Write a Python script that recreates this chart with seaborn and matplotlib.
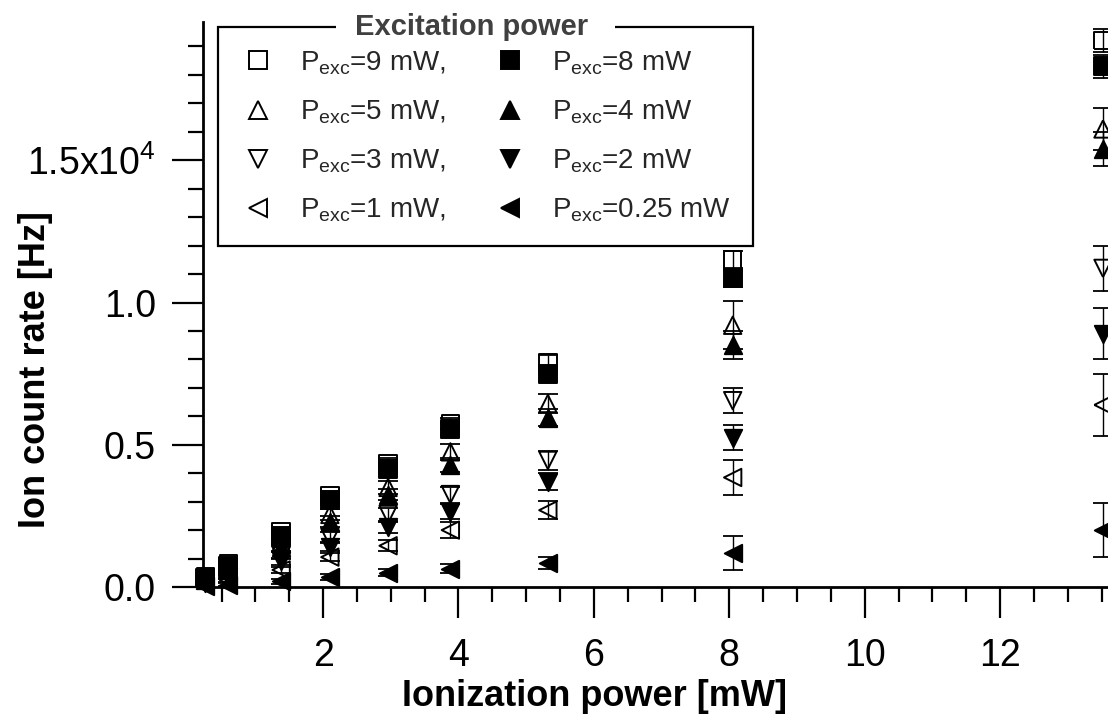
import matplotlib
matplotlib.use("Agg")
import matplotlib.pyplot as plt
from matplotlib.lines import Line2D
from matplotlib.patches import Rectangle
from matplotlib.ticker import MultipleLocator, FixedLocator, FixedFormatter
import numpy as np
import pandas as pd
import seaborn as sns

# Ionization laser power [mW]
ion_power = [0.26, 0.60, 1.38, 2.10, 2.96, 3.88, 5.32, 8.05, 13.52]

# Ion count rate [Hz] for each excitation power
rate_9mw = [350, 820, 1950, 3200, 4350, 5750, 7900, 11500, 19200]
rate_8mw = [320, 750, 1800, 3050, 4150, 5550, 7500, 10850, 18300]
rate_5mw = [280, 650, 1550, 2550, 3500, 4750, 6450, 9200, 16100]
rate_4mw = [250, 600, 1400, 2300, 3250, 4300, 5950, 8500, 15400]
rate_3mw = [200, 450, 1100, 1750, 2550, 3250, 4450, 6550, 11200]
rate_2mw = [150, 350, 900, 1400, 2100, 2650, 3700, 5250, 8900]
rate_1mw = [100, 250, 600, 1050, 1450, 2000, 2700, 3850, 6400]
rate_025mw = [20, 80, 200, 350, 500, 650, 850, 1200, 2000]

# Standard deviations [Hz]
err_9mw = [50, 80, 120, 150, 180, 200, 250, 300, 400]
err_8mw = [50, 80, 120, 150, 180, 200, 250, 300, 400]
err_5mw = [50, 80, 120, 180, 220, 280, 350, 850, 750]
err_4mw = [50, 80, 120, 180, 200, 250, 300, 500, 600]
err_3mw = [50, 80, 120, 180, 220, 280, 320, 450, 800]
err_2mw = [50, 80, 120, 150, 200, 250, 300, 450, 900]
err_1mw = [50, 80, 120, 150, 200, 280, 320, 600, 1100]
err_025mw = [30, 50, 80, 100, 120, 150, 200, 600, 950]

exc_labels = ["9", "8", "5", "4", "3", "2", "1", "0.25"]
rates = [rate_9mw, rate_8mw, rate_5mw, rate_4mw, rate_3mw, rate_2mw, rate_1mw, rate_025mw]
errors = [err_9mw, err_8mw, err_5mw, err_4mw, err_3mw, err_2mw, err_1mw, err_025mw]
marker_shapes = ["s", "s", "^", "^", "v", "v", "<", "<"]
filled = [False, True, False, True, False, True, False, True]

x_tick_values = [2, 4, 6, 8, 10, 12]
y_tick_values = [0, 5000, 10000, 15000]
y_tick_labels = ["0.0", "0.5", "1.0", r"1.5x10$^{4}$"]

sns.set_style("ticks")
plt.rcParams["font.family"] = ["Liberation Sans", "DejaVu Sans"]
plt.rcParams["mathtext.fontset"] = "custom"
plt.rcParams["mathtext.rm"] = "Liberation Sans"
plt.rcParams["mathtext.it"] = "Liberation Sans:italic"
plt.rcParams["mathtext.bf"] = "Liberation Sans:bold"
plt.rcParams["mathtext.default"] = "regular"

frames = []
for lab, r, e in zip(exc_labels, rates, errors):
    frames.append(pd.DataFrame({"power": ion_power, "rate": r, "err": e, "exc": lab}))
df = pd.concat(frames, ignore_index=True)

W, H = 1108, 722
fig = plt.figure(figsize=(W / 100, H / 100), dpi=100)
ax = fig.add_axes([203 / W, 135 / H, 966 / W, 565 / H])

msize = 12.5
for i, (lab, m, f) in enumerate(zip(exc_labels, marker_shapes, filled)):
    sub = df[df["exc"] == lab]
    ax.errorbar(sub["power"], sub["rate"], yerr=sub["err"], fmt="none",
                ecolor="black", elinewidth=1.0, capsize=7, capthick=1.3,
                clip_on=False, zorder=2 + i)
    sns.scatterplot(data=sub, x="power", y="rate", marker=m, s=msize ** 2,
                    facecolor="black" if f else "none", edgecolor="black",
                    linewidth=1.4, clip_on=False, zorder=3 + i, legend=False, ax=ax)

ax.set_xlim(0.226, 14.495)
ax.set_ylim(0, 19860)
sns.despine(ax=ax)
for s in ("left", "bottom"):
    ax.spines[s].set_linewidth(2.0)
    ax.spines[s].set_color("black")

ax.xaxis.set_major_locator(FixedLocator(x_tick_values))
ax.xaxis.set_major_formatter(FixedFormatter([str(v) for v in x_tick_values]))
ax.xaxis.set_minor_locator(MultipleLocator(0.5))
ax.yaxis.set_major_locator(FixedLocator(y_tick_values))
ax.yaxis.set_major_formatter(FixedFormatter(y_tick_labels))
ax.yaxis.set_minor_locator(MultipleLocator(1000))
ax.tick_params(axis="both", which="major", length=22, width=1.6, color="black",
               labelsize=27, labelcolor="black", direction="out")
ax.tick_params(axis="both", which="minor", length=11, width=1.6, color="black", direction="out")
ax.tick_params(axis="x", which="major", pad=15)
ax.tick_params(axis="y", which="major", pad=12)
ax.set_xlabel("")
ax.set_ylabel("")

# Legend: open markers in the first column, filled ones in the second
def handle(m, f):
    return Line2D([], [], ls="none", marker=m, markersize=msize,
                  mfc="black" if f else "none", mec="black", mew=1.4)

order = [0, 2, 4, 6, 1, 3, 5, 7]
handles = [handle(marker_shapes[k], filled[k]) for k in order]
labels = [r"P$_{\mathrm{exc}}$=" + exc_labels[k] + " mW" + ("," if not filled[k] else "")
          for k in order]
leg = ax.legend(handles, labels, ncol=2, loc="upper left",
                bbox_to_anchor=(218 / W, 1 - 27 / H), bbox_transform=fig.transFigure,
                borderaxespad=0, fontsize=20, frameon=True, fancybox=False,
                edgecolor="black", framealpha=1, borderpad=0.8, handlelength=1.3,
                handletextpad=0.86, columnspacing=1.65, labelspacing=0.78)
leg.get_frame().set_linewidth(1.6)

# Title sitting on the top border of the legend frame
fig.patches.append(Rectangle((336 / W, 1 - 40 / H), 279 / W, 26 / H,
                             transform=fig.transFigure, facecolor="white",
                             edgecolor="none", zorder=10))
fig.text(472 / W, 1 - 27 / H, "Excitation power", ha="center", va="center",
         fontsize=21, fontweight="bold", color="#404040", zorder=11)

# Band under the tick labels, with the axis title on it
fig.patches.append(Rectangle((0, 0), 1, 1 - 668 / H, transform=fig.transFigure,
                             facecolor="white", edgecolor="none", zorder=10))
fig.text(36 / W, 1 - 370 / H, "Ion count rate [Hz]", rotation=90, ha="center",
         va="center", fontsize=26, fontweight="bold", color="black")
fig.text(595 / W, 1 - 696 / H, "Ionization power [mW]", ha="center", va="center",
         fontsize=26, fontweight="bold", color="black", zorder=12)

fig.savefig("out.png", dpi=100)
